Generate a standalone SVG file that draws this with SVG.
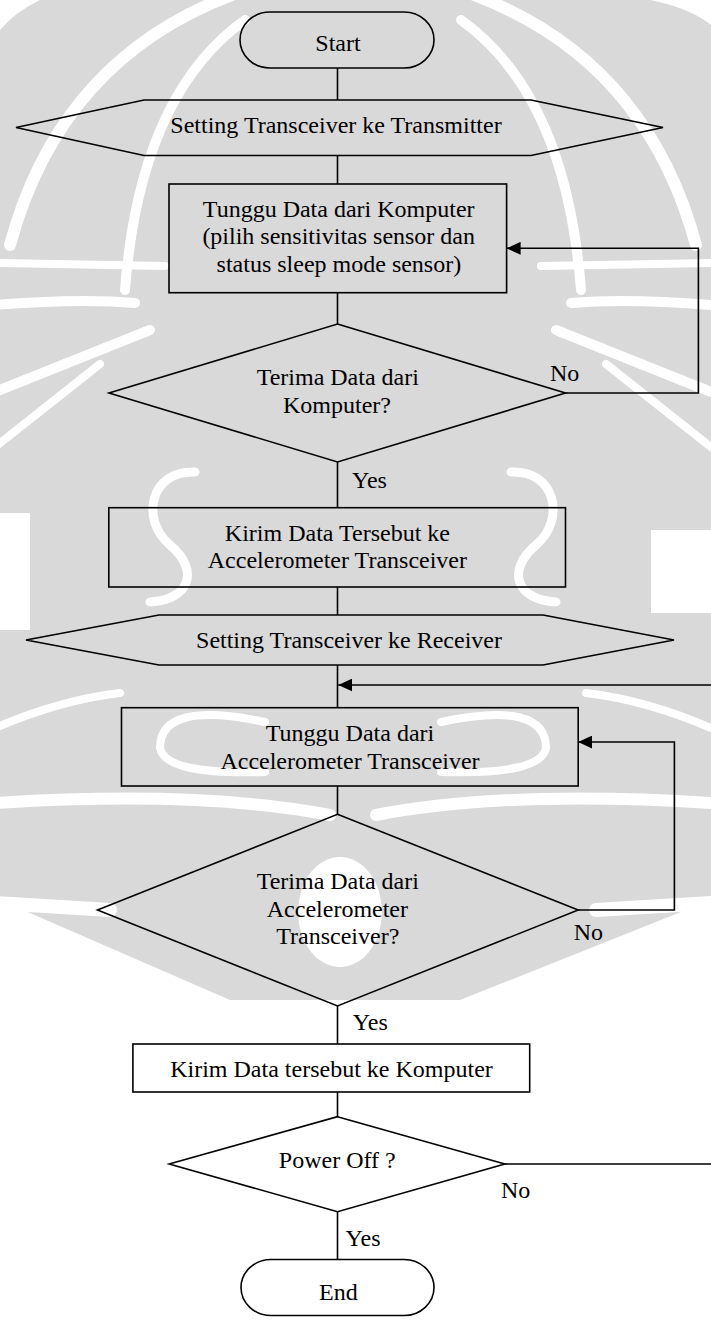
<svg xmlns="http://www.w3.org/2000/svg" xmlns:xlink="http://www.w3.org/1999/xlink" width="711" height="1320" viewBox="0 0 711 1320">
  <style>
    .shape { fill: none; stroke: #000; stroke-width: 1.6; }
    .conn { fill: none; stroke: #000; stroke-width: 1.6; }
    .t { font-family: "Liberation Serif", "Times New Roman", serif; font-size: 24px; fill: #000; }
    .c { text-anchor: middle; }
    .wm { fill: #d9d9d9; }
    .ws { fill: none; stroke: #fff; stroke-linecap: round; }
  </style>
  <defs>
    <marker id="arrow" markerUnits="userSpaceOnUse" markerWidth="14" markerHeight="13" refX="14" refY="6.5" orient="auto">
      <path d="M0,0 L14,6.5 L0,13 Z" fill="#000"/>
    </marker>
    <g id="wmHalf">
      <path class="ws" stroke-width="12" d="M232,-5 Q60,60 10,245"/>
      <path class="ws" stroke-width="10" d="M245,20 Q140,95 125,290"/>
      <path class="ws" stroke-width="8" d="M-5,263 L165,266"/>
      <path class="ws" stroke-width="10" d="M-5,305 Q80,298 135,303"/>
      <path class="ws" stroke-width="10" d="M-5,392 L150,330"/>
      <path class="ws" stroke-width="8" d="M-5,447 L100,364"/>
      <path class="ws" stroke-width="9" d="M195,472 C150,470 140,520 170,545 C200,570 190,600 150,602"/>
      <path class="ws" stroke-width="8" d="M-5,728 Q60,700 120,693"/>
      <path class="ws" stroke-width="8" d="M265,722 Q160,700 160,748 Q165,775 265,772"/>
      <path class="ws" stroke-width="12" d="M-5,803 Q200,790 330,815"/>
      <path class="ws" stroke-width="14" d="M-5,903 L110,910"/>
    </g>
  </defs>
  <rect x="0" y="0" width="711" height="1320" fill="#fff"/>
  <g id="watermark">
    <rect class="wm" x="0" y="0" width="711" height="795"/>
    <path class="wm" d="M0,795 H711 V900 L460,1000 H230 L0,900 Z"/>
    <path d="M0,0 H40 Q15,12 0,30 Z" fill="#fff"/>
    <path d="M711,0 H650 Q690,8 711,25 Z" fill="#fff"/>
    <rect x="0" y="513" width="30" height="117" fill="#fff"/>
    <rect x="651" y="530" width="60" height="83" fill="#fff"/>
    <use xlink:href="#wmHalf"/>
    <use xlink:href="#wmHalf" transform="translate(706,0) scale(-1,1)"/>
    <ellipse cx="340" cy="912" rx="42" ry="55" fill="#fff"/>
  </g>
  <g id="connectors">
    <path class="conn" d="M337.5,68 V100"/>
    <path class="conn" d="M337.5,155.5 V184"/>
    <path class="conn" d="M337.5,292.7 V324"/>
    <path class="conn" d="M337.5,462 V507.7"/>
    <path class="conn" d="M565.5,393 H698.4 V248.3 H506.6" marker-end="url(#arrow)"/>
    <path class="conn" d="M337.5,587 V615"/>
    <path class="conn" d="M337.5,665 V707.7"/>
    <path class="conn" d="M337.5,786 V814.3"/>
    <path class="conn" d="M578.2,910 H674.4 V742 H578.2" marker-end="url(#arrow)"/>
    <path class="conn" d="M337.5,1006 V1044"/>
    <path class="conn" d="M337.5,1092 V1116.7"/>
    <path class="conn" d="M337.5,1211.7 V1259.5"/>
    <path class="conn" d="M504.8,1164 H718 V685 H338.3" marker-end="url(#arrow)"/>
  </g>
  <g id="start">
    <rect class="shape" x="240" y="12" width="194" height="56" rx="30" ry="28"/>
    <text class="t c" x="338" y="50.5">Start</text>
  </g>
  <g id="setTransmitter">
    <polygon class="shape" points="16,127.5 144,100 531,100 663,127.5 531,155.5 144,155.5"/>
    <text class="t c" x="336" y="132.6">Setting Transceiver ke Transmitter</text>
  </g>
  <g id="waitComputer">
    <rect class="shape" x="169" y="184" width="337.6" height="108.7"/>
    <text class="t c" x="338.7" y="216.7">Tunggu Data dari Komputer</text>
    <text class="t c" x="338.7" y="244">(pilih sensitivitas sensor dan</text>
    <text class="t c" x="338.9" y="271.5">status sleep mode sensor)</text>
  </g>
  <g id="receiveComputer">
    <polygon class="shape" points="337.5,324 565.5,393 337.5,462 109,393"/>
    <text class="t c" x="337.8" y="385">Terima Data dari</text>
    <text class="t c" x="337" y="412.5">Komputer?</text>
    <text class="t" x="550" y="381">No</text>
    <text class="t" x="352" y="488">Yes</text>
  </g>
  <g id="sendAccel">
    <rect class="shape" x="108.8" y="507.7" width="456.7" height="79.3"/>
    <text class="t c" x="337.4" y="541">Kirim Data Tersebut ke</text>
    <text class="t c" x="337.4" y="568">Accelerometer Transceiver</text>
  </g>
  <g id="setReceiver">
    <polygon class="shape" points="26,640 159,615 543,615 674,640 543,665 159,665"/>
    <text class="t c" x="349" y="648">Setting Transceiver ke Receiver</text>
  </g>
  <g id="waitAccel">
    <rect class="shape" x="121.5" y="707.7" width="456.7" height="78.3"/>
    <text class="t c" x="350" y="740.8">Tunggu Data dari</text>
    <text class="t c" x="350" y="768.6">Accelerometer Transceiver</text>
  </g>
  <g id="receiveAccel">
    <polygon class="shape" points="337.5,814.3 578.2,910 337.5,1006 97.5,910"/>
    <text class="t c" x="337.8" y="889.4">Terima Data dari</text>
    <text class="t c" x="337.4" y="916.7">Accelerometer</text>
    <text class="t c" x="337.8" y="944">Transceiver?</text>
    <text class="t" x="573.7" y="940">No</text>
    <text class="t" x="352.8" y="1029.5">Yes</text>
  </g>
  <g id="sendComputer">
    <rect class="shape" x="132.9" y="1044" width="396.8" height="48"/>
    <text class="t c" x="331.5" y="1076.7">Kirim Data tersebut ke Komputer</text>
  </g>
  <g id="powerOff">
    <polygon class="shape" points="337.5,1116.7 504.8,1164 337.5,1211.7 169.2,1164"/>
    <text class="t c" x="337.3" y="1168.4">Power Off ?</text>
    <text class="t" x="501" y="1197.9">No</text>
    <text class="t" x="345.6" y="1245.8">Yes</text>
  </g>
  <g id="end">
    <rect class="shape" x="241" y="1259.5" width="193" height="56" rx="30" ry="28"/>
    <text class="t c" x="338.4" y="1299.7">End</text>
  </g>
</svg>
